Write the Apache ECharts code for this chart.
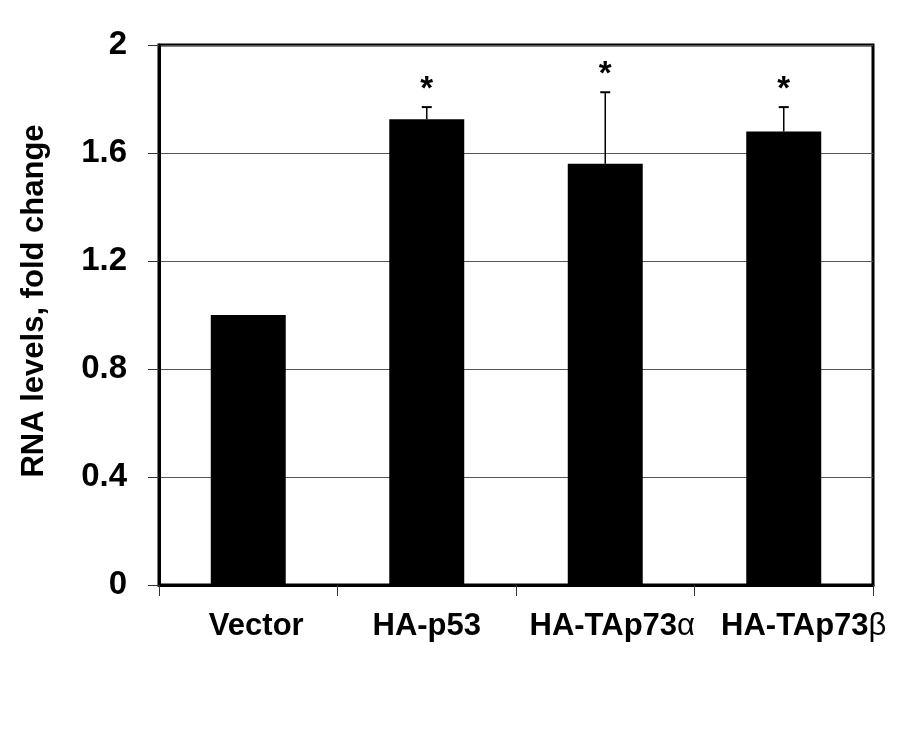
<!DOCTYPE html>
<html>
<head>
<meta charset="utf-8">
<script src="https://cdn.jsdelivr.net/npm/echarts@6/dist/echarts.min.js"></script>
<style>
  html, body { margin: 0; padding: 0; background: #fff; }
  #chart { width: 907px; height: 733px; }
</style>
</head>
<body>
<div id="chart"></div>
<script>
// Relative RNA levels (fold change over empty vector), mean with upward SD
const categories = ['Vector', 'HA-p53', 'HA-TAp73α', 'HA-TAp73β'];
const foldChange = [1.0, 1.725, 1.56, 1.68];
const errorUp = [0, 0.045, 0.265, 0.09];
const significance = ['', '*', '*', '*'];
const yMin = 0, yMax = 2, yStep = 0.4;

const FONT = "'Liberation Sans', Arial, sans-serif";

const chart = echarts.init(document.getElementById('chart'), null, { renderer: 'canvas' });

// Hand-placed label nudges (px to the right of the category centre)
const labelNudge = { 'Vector': 8, 'HA-TAp73α': 7, 'HA-TAp73β': 20 };

// Greek suffix drawn in a lighter face than the rest of the label
function catLabel(name) {
  const n = labelNudge[name] ? '{s' + labelNudge[name] + '|}' : '';
  const m = name.match(/^(.*?)([αβ])$/);
  if (!m) return n + '{b|' + name + '}';
  return n + '{b|' + m[1] + '}{g|' + m[2] + '}';
}

const richStyles = {
  b: { fontFamily: FONT, fontWeight: 'bold', fontSize: 31, color: '#000' },
  g: { fontFamily: FONT, fontWeight: 'normal', fontSize: 31, color: '#000' }
};
Object.values(labelNudge).forEach(function (d) {
  richStyles['s' + d] = { width: 2 * d, fontSize: 31 };
});

const errData = categories.map((c, i) => [i, foldChange[i], errorUp[i]]);

chart.setOption({
  animation: false,
  backgroundColor: '#fff',
  grid: {
    left: 159, right: 34, top: 45, bottom: 148,
    show: true, borderColor: '#000', borderWidth: 3, backgroundColor: 'transparent'
  },
  xAxis: {
    type: 'category',
    data: categories,
    axisLine: { lineStyle: { color: '#000', width: 3 } },
    axisTick: { show: true, length: 11, inside: false, lineStyle: { color: '#333', width: 1 } },
    axisLabel: {
      margin: 26,
      formatter: catLabel,
      rich: richStyles
    }
  },
  yAxis: {
    type: 'value',
    min: yMin, max: yMax, interval: yStep,
    name: 'RNA levels, fold change',
    nameLocation: 'middle',
    nameGap: 109,
    nameRotate: 90,
    nameTextStyle: {
      fontFamily: FONT, fontWeight: 'bold', fontSize: 31, color: '#000',
      padding: [0, 0, 0, 28]
    },
    axisLine: { show: true, lineStyle: { color: '#000', width: 3 } },
    axisTick: { show: true, length: 11, lineStyle: { color: '#333', width: 1 } },
    axisLabel: { margin: 32, fontFamily: FONT, fontWeight: 'bold', fontSize: 33, color: '#000' },
    splitLine: { show: true, lineStyle: { color: '#555', width: 1 } }
  },
  series: [
    {
      type: 'bar',
      data: foldChange,
      barWidth: '42%',
      itemStyle: { color: '#000' },
      z: 2
    },
    {
      type: 'custom',
      data: errData,
      z: 3,
      renderItem: function (params, api) {
        const i = api.value(0);
        const v = api.value(1);
        const e = api.value(2);
        const mark = significance[params.dataIndex];
        const base = api.coord([i, v]);
        const top = api.coord([i, v + e]);
        const children = [];
        if (e > 0) {
          children.push({
            type: 'line',
            shape: { x1: base[0], y1: base[1], x2: top[0], y2: top[1] },
            style: { stroke: '#000', lineWidth: 1.5 }
          });
          children.push({
            type: 'line',
            shape: { x1: top[0] - 5, y1: top[1], x2: top[0] + 5, y2: top[1] },
            style: { stroke: '#000', lineWidth: 2 }
          });
        }
        if (mark) {
          children.push({
            type: 'text',
            style: {
              x: top[0], y: top[1] - 17,
              text: mark,
              fontFamily: FONT, fontWeight: 'bold', fontSize: 33, fill: '#000',
              align: 'center', verticalAlign: 'middle'
            }
          });
        }
        return { type: 'group', children: children };
      }
    }
  ]
});
</script>
</body>
</html>
